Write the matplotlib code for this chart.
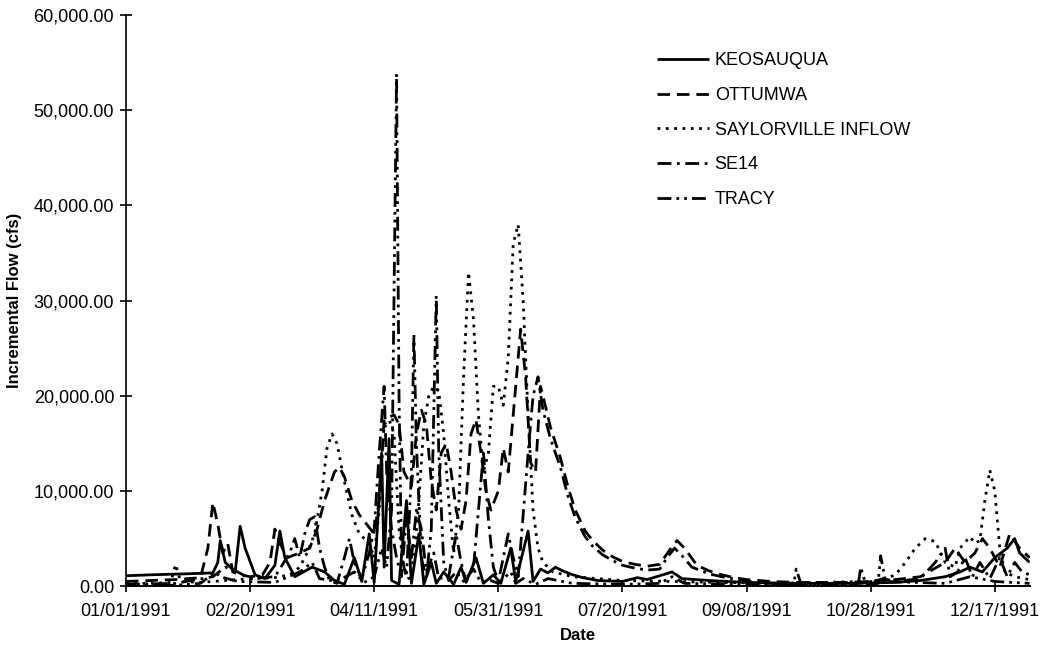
import pandas as pd
import matplotlib
matplotlib.use('Agg')
import matplotlib.pyplot as plt
from matplotlib.ticker import FuncFormatter

plt.rcParams['font.family'] = ['Liberation Sans', 'DejaVu Sans']

# incremental flows (cfs), keyed by day of year 1991 (0 = Jan 1)
keosauqua = [(0, 1100), (10, 1200), (24, 1300), (35, 1400), (37, 2500), (38, 4800), (40, 2500),
             (44, 1500), (46, 6300), (48, 4000), (52, 1200), (56, 800), (60, 2200), (62, 5800),
             (64, 3000), (68, 1000), (75, 2000), (80, 1500), (84, 600), (88, 200), (92, 3000),
             (95, 500), (98, 5500), (100, 400), (103, 14000), (104, 2000), (106, 15500), (107, 600),
             (110, 200), (113, 9000), (115, 300), (118, 5500), (120, 200), (123, 2500), (125, 300),
             (128, 1500), (132, 200), (135, 2000), (137, 400), (141, 3000), (144, 300), (148, 1200),
             (151, 300), (155, 4000), (157, 500), (162, 5800), (164, 500), (167, 1800), (170, 1400),
             (173, 2000), (176, 1600), (180, 1200), (184, 900), (190, 600), (200, 500), (206, 900),
             (210, 700), (220, 1500), (224, 800), (235, 600), (250, 400), (270, 300), (290, 300),
             (310, 400), (320, 600), (330, 1000), (336, 1500), (340, 2000), (345, 1500),
             (350, 3000), (355, 4000), (358, 5000), (360, 3500), (364, 2500)]

ottumwa = [(0, 500), (10, 600), (20, 700), (30, 900), (33, 4000), (35, 8800), (37, 6500), (39, 3500),
           (41, 4500), (43, 1500), (46, 1200), (50, 1000), (55, 1200), (58, 2500), (60, 6000),
           (62, 4500), (65, 3000), (70, 3500), (74, 4000), (77, 6000), (80, 9000), (84, 12000),
           (86, 12500), (88, 11500), (91, 9000), (94, 7500), (97, 6500), (100, 5500), (102, 9000),
           (104, 17500), (108, 18000), (110, 17000), (112, 12000), (115, 10500), (117, 16000),
           (119, 18500), (121, 17000), (123, 11000), (125, 8000), (127, 14000), (129, 15000),
           (131, 12000), (133, 8000), (135, 6000), (137, 9000), (139, 16000), (141, 17500),
           (143, 14000), (145, 10000), (147, 8000), (150, 10000), (152, 14500), (154, 12000),
           (156, 18000), (158, 24000), (159, 27000), (161, 22000), (163, 13000), (165, 12000),
           (167, 21000), (168, 20000), (171, 16700), (175, 13500), (178, 10500), (181, 8000),
           (185, 5800), (188, 4800), (192, 3800), (196, 3100), (200, 2600), (205, 2300),
           (210, 2100), (215, 2300), (219, 3800), (222, 4800), (225, 4000), (230, 2200),
           (235, 1600), (240, 1200), (245, 900), (250, 700), (260, 500), (270, 400), (290, 400),
           (300, 500), (310, 700), (320, 1000), (330, 2500), (334, 4000), (338, 2500), (342, 3500),
           (345, 5000), (348, 4000), (352, 2000), (356, 5500), (360, 4000), (364, 3000)]

saylorville = [(0, 300), (10, 300), (18, 400), (20, 2300), (22, 500), (30, 400), (40, 600),
               (50, 800), (60, 900), (66, 1200), (70, 2000), (73, 3500), (76, 5500), (79, 10000),
               (81, 14500), (83, 16000), (85, 15000), (88, 11000), (91, 7500), (94, 5500),
               (98, 4500), (100, 3000), (102, 8000), (104, 17000), (106, 17500), (108, 16000),
               (110, 6000), (112, 2000), (114, 800), (116, 3000), (118, 9000), (120, 17000),
               (122, 20000), (124, 21000), (126, 20500), (128, 16000), (130, 9000), (132, 3500),
               (134, 8000), (136, 22000), (138, 33000), (140, 28000), (142, 18000), (144, 12000),
               (146, 14000), (148, 21000), (150, 21000), (152, 19000), (154, 24000), (156, 36000),
               (158, 38000), (160, 30000), (162, 18000), (164, 8000), (166, 4000), (168, 2500),
               (172, 1500), (180, 1000), (190, 800), (200, 600), (240, 400), (260, 300), (280, 400),
               (300, 500), (306, 800), (310, 1200), (314, 2500), (318, 4000), (322, 5000),
               (326, 4700), (330, 2500), (334, 2000), (336, 4000), (340, 5200), (342, 4500),
               (344, 4800), (346, 9000), (348, 12200), (350, 10000), (352, 4000), (354, 1500),
               (358, 1000), (364, 700)]

se14 = [(0, 200), (20, 300), (35, 1000), (40, 2000), (45, 1500), (50, 800), (60, 1000), (66, 3500),
        (68, 5000), (70, 3000), (72, 5500), (74, 7000), (76, 7300), (78, 4000), (80, 2000), (82, 600),
        (85, 300), (88, 3000), (90, 5000), (92, 2500), (95, 800), (98, 3500), (100, 6000),
        (102, 14000), (104, 21000), (105, 12000), (107, 6000), (109, 3000), (111, 1000),
        (113, 7500), (115, 3000), (117, 8000), (119, 6000), (121, 1500), (124, 3500), (126, 800),
        (130, 1000), (133, 5500), (135, 2500), (137, 500), (140, 2000), (142, 8000), (144, 14000),
        (146, 7000), (148, 2000), (150, 500), (152, 3000), (154, 5500), (156, 3000), (158, 1000),
        (160, 7500), (162, 14000), (164, 20000), (166, 22000), (168, 18500), (171, 15500),
        (175, 12500), (178, 9500), (181, 7200), (185, 5200), (188, 4200), (192, 3300),
        (196, 2700), (200, 2200), (205, 1900), (210, 1700), (215, 1800), (218, 3000), (221, 4000),
        (224, 3200), (228, 2000), (235, 1300), (240, 1000), (250, 500), (260, 300), (270, 200),
        (290, 200), (300, 400), (305, 800), (310, 500), (320, 800), (326, 2500), (330, 4000),
        (332, 1000), (335, 1500), (338, 3000), (341, 1000), (344, 2500), (348, 800), (352, 3000),
        (355, 1000), (358, 2500), (361, 1500), (364, 1200)]

tracy = [(0, 100), (20, 100), (30, 300), (36, 1500), (38, 1000), (45, 500), (60, 400), (70, 1500),
         (75, 2500), (78, 800), (85, 500), (92, 1500), (96, 400), (100, 1000), (103, 4000),
         (105, 2000), (107, 8000), (109, 53800), (110, 20000), (111, 3000), (113, 1000),
         (115, 12000), (116, 26500), (117, 15000), (119, 3000), (121, 800), (123, 6000),
         (125, 30500), (126, 14000), (128, 2500), (130, 600), (133, 1500), (136, 500), (140, 1800),
         (143, 400), (147, 600), (150, 300), (155, 1500), (157, 300), (160, 800), (165, 200),
         (170, 800), (174, 600), (180, 300), (200, 200), (215, 300), (220, 1000), (225, 300),
         (250, 200), (269, 200), (270, 1800), (272, 200), (295, 200), (296, 2000), (298, 200),
         (303, 300), (304, 3200), (306, 500), (330, 300), (340, 1000), (350, 500), (364, 300)]

series = [('KEOSAUQUA', keosauqua, (0, ())),
          ('OTTUMWA', ottumwa, (0, (4.5, 2.5))),
          ('SAYLORVILLE INFLOW', saylorville, (0, (1, 2))),
          ('SE14', se14, (0, (5, 2, 1, 2))),
          ('TRACY', tracy, (0, (5, 1.8, 1, 1.8, 1, 1.8)))]

start = pd.Timestamp('1991-01-01')

fig = plt.figure(figsize=(10.41, 6.55), dpi=100)
ax = fig.add_axes([0.121, 0.105, 0.868, 0.872])

for name, pts, ls in series:
    df = pd.DataFrame(pts, columns=['day', 'flow'])
    dates = start + pd.to_timedelta(df['day'], unit='D')
    ax.plot(dates, df['flow'], color='black', lw=2.0, linestyle=ls, label=name)

ax.set_ylim(0, 60000)
ax.set_xlim(start, pd.Timestamp('1991-12-31'))
ax.set_yticks(range(0, 60001, 10000))
ax.yaxis.set_major_formatter(FuncFormatter(lambda v, p: f'{v:,.2f}'))
xt = [start + pd.Timedelta(days=d) for d in range(0, 351, 50)]
ax.set_xticks(xt)
ax.set_xticklabels([t.strftime('%m/%d/%Y') for t in xt])

for s in ['top', 'right']:
    ax.spines[s].set_visible(False)
ax.spines['left'].set_linewidth(1.2)
ax.spines['bottom'].set_linewidth(1.4)
ax.tick_params(axis='y', direction='inout', length=9, width=1.2, labelsize=13, pad=4)
ax.tick_params(axis='x', direction='inout', length=8, width=1.2, labelsize=13, pad=8)

ax.set_ylabel('Incremental Flow (cfs)', fontsize=12, fontweight='bold', labelpad=8)
ax.set_xlabel('Date', fontsize=12, fontweight='bold', labelpad=6)

ax.legend(loc='upper left', bbox_to_anchor=(0.631, 0.92), bbox_transform=fig.transFigure,
          frameon=False, fontsize=13, handlelength=2.9, handletextpad=0.3,
          labelspacing=0.98, borderpad=0, borderaxespad=0)

fig.savefig('out.png', dpi=100)
